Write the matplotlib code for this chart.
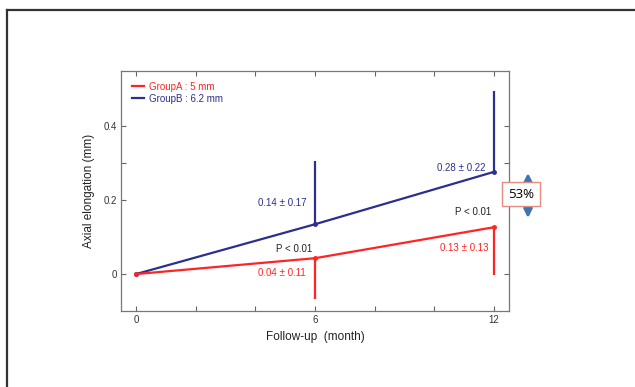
import matplotlib
matplotlib.use('Agg')
import matplotlib.pyplot as plt
from matplotlib.lines import Line2D
from matplotlib.patches import FancyArrowPatch

# data
months = [0, 6, 12]
group_a = [0.0, 0.043, 0.127]
group_b = [0.0, 0.135, 0.277]
sd_a = [0.0, 0.11, 0.13]
sd_b = [0.0, 0.17, 0.22]
label_a = ['0.04 ± 0.11', '0.13 ± 0.13']
label_b = ['0.14 ± 0.17', '0.28 ± 0.22']
p_text = 'P < 0.01'

RED = '#ff2424'
BLUE = '#2b2f8e'
narrow = ['Liberation Sans', 'DejaVu Sans']

fig = plt.figure(figsize=(6.35, 3.87), dpi=100)
ax = fig.add_axes([0.1906, 0.1964, 0.611, 0.620])

ax.plot(months, group_b, color=BLUE, lw=1.6, marker='o', ms=2.5, zorder=3)
ax.plot(months, group_a, color=RED, lw=1.6, marker='o', ms=2.5, zorder=3)

# one-sided error bars: blue upward, red downward
ax.errorbar(months[1:], group_b[1:], yerr=[[0, 0], sd_b[1:]], fmt='none',
            ecolor=BLUE, elinewidth=1.6, capsize=0)
ax.errorbar(months[1:], group_a[1:], yerr=[sd_a[1:], [0, 0]], fmt='none',
            ecolor=RED, elinewidth=1.6, capsize=0)

ax.set_xlim(-0.5, 12.5)
ax.set_ylim(-0.1, 0.55)
ax.set_xticks([0, 6, 12])
ax.set_xticklabels(['0', '6', '12'])
ax.set_xticks([2, 4, 8, 10], minor=True)
ax.set_yticks([0, 0.2, 0.4])
ax.set_yticklabels(['0', '0.2', '0.4'])
ax.set_yticks([0.3], minor=True)
ax.tick_params(which='both', direction='in', top=True, right=True,
               length=3.5, width=0.8, color='#666666', labelcolor='#333333',
               labelsize=7, pad=3)
for lab in ax.get_xticklabels() + ax.get_yticklabels():
    lab.set_family(narrow)
for sp in ax.spines.values():
    sp.set_color('#777777')
    sp.set_linewidth(0.9)

ax.set_xlabel('Follow-up  (month)', fontsize=8.5, family='Liberation Sans',
              color='#222222', labelpad=4)
ax.set_ylabel('Axial elongation (mm)', fontsize=8.5, family='Liberation Sans',
              color='#222222', labelpad=6)

# legend
handles = [Line2D([], [], color=RED, lw=1.6), Line2D([], [], color=BLUE, lw=1.6)]
leg = ax.legend(handles, ['GroupA : 5 mm', 'GroupB : 6.2 mm'], loc='upper left',
                frameon=False, handlelength=1.3, handletextpad=0.5,
                labelspacing=0.2, borderaxespad=0.7,
                prop={'family': narrow, 'size': 7})
for t, c in zip(leg.get_texts(), [RED, BLUE]):
    t.set_color(c)

# value annotations
fs = 7
ax.text(4.9, 0.192, label_b[0], color=BLUE, fontsize=fs, family=narrow, ha='center', va='center')
ax.text(10.9, 0.288, label_b[1], color=BLUE, fontsize=fs, family=narrow, ha='center', va='center')
ax.text(4.9, 0.002, label_a[0], color=RED, fontsize=fs, family=narrow, ha='center', va='center')
ax.text(11.0, 0.071, label_a[1], color=RED, fontsize=fs, family=narrow, ha='center', va='center')
ax.text(5.3, 0.068, p_text, color='#222222', fontsize=fs, family=narrow, ha='center', va='center')
ax.text(11.3, 0.168, p_text, color='#222222', fontsize=fs, family=narrow, ha='center', va='center')

# outer frame (left and top edges)
W, H = 635, 387
fig.add_artist(Line2D([6.5 / W, 6.5 / W], [0, 1 - 9.5 / H], color='#333333', lw=1.6))
fig.add_artist(Line2D([6.5 / W, 1], [1 - 9.5 / H, 1 - 9.5 / H], color='#333333', lw=1.6))

# 53% marker with double arrow
arrow = FancyArrowPatch((528 / W, 1 - 173 / H), (528 / W, 1 - 218 / H),
                        transform=fig.transFigure,
                        arrowstyle='<|-|>,head_length=0.5,head_width=0.25',
                        mutation_scale=10, color='#3a76b6', lw=2.0,
                        shrinkA=0, shrinkB=0, zorder=5)
fig.add_artist(arrow)
fig.text(521 / W, 1 - 194 / H, '53%', fontsize=9.5, family=['Open Sans', 'DejaVu Sans'],
         ha='center', va='center', zorder=6,
         bbox=dict(boxstyle='square,pad=0.45', fc='white', ec='#ea8a80', lw=1.0))

fig.savefig('out.png', dpi=100)
